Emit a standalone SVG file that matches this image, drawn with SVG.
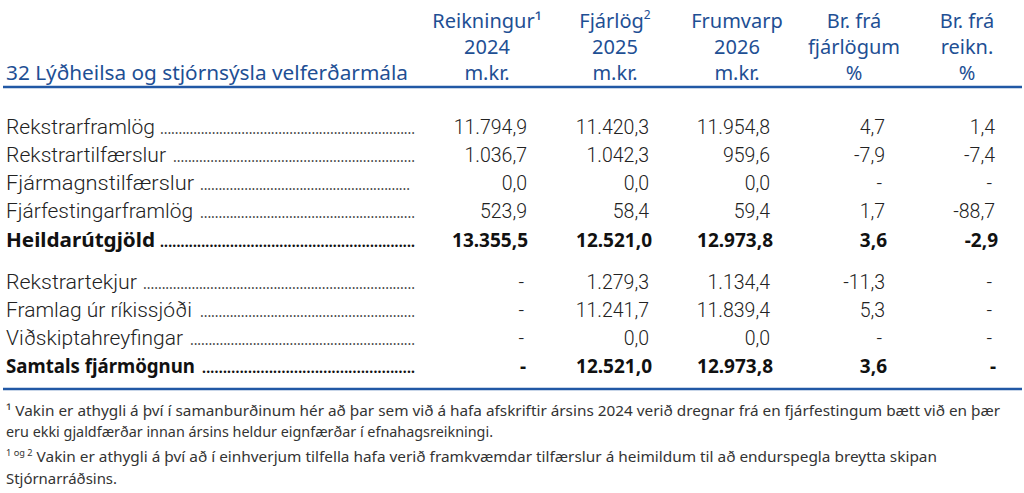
<svg xmlns="http://www.w3.org/2000/svg" width="1024" height="493" viewBox="0 0 1024 493">
<style>
.hd{font-family:"Noto Sans","Liberation Sans",sans-serif;font-size:20px;fill:#1e4f94;text-anchor:middle}
.ti{font-family:"Noto Sans","Liberation Sans",sans-serif;font-size:20px;fill:#1e4f94}
.lb{font-family:Roboto,"Noto Sans","Liberation Sans",sans-serif;font-size:20px;font-weight:300;fill:#222}
.lbb{font-family:"Noto Sans","Liberation Sans",sans-serif;font-size:20px;font-weight:700;fill:#111}
.dt{font-family:"Noto Sans","Liberation Sans",sans-serif;font-size:14px;fill:#444}
.dtb{font-family:"Noto Sans","Liberation Sans",sans-serif;font-size:14px;font-weight:700;fill:#111}
.n{font-family:Roboto,"Noto Sans","Liberation Sans",sans-serif;font-size:19.5px;font-weight:300;fill:#222;text-anchor:end}
.nb{font-family:"Noto Sans","Liberation Sans",sans-serif;font-size:19px;font-weight:700;fill:#111;text-anchor:end}
.fn{font-family:"Noto Sans","Liberation Sans",sans-serif;font-size:15px;fill:#333}
.rule{stroke:#2158a5;stroke-width:2.5;fill:none}
</style>
<rect width="1024" height="493" fill="#fff"/>
<g id="header">
<text class="ti" x="6" y="80" textLength="402" lengthAdjust="spacingAndGlyphs">32 Lýðheilsa og stjórnsýsla velferðarmála</text>
<text class="hd" x="487" y="28">Reikningur¹</text>
<text class="hd" x="487" y="54">2024</text>
<text class="hd" x="487" y="80">m.kr.</text>
<text class="hd" x="615" y="28">Fjárlög<tspan font-size="12" dy="-9">2</tspan></text>
<text class="hd" x="615" y="54">2025</text>
<text class="hd" x="615" y="80">m.kr.</text>
<text class="hd" x="737" y="28">Frumvarp</text>
<text class="hd" x="737" y="54">2026</text>
<text class="hd" x="737" y="80">m.kr.</text>
<text class="hd" x="854" y="28">Br. frá</text>
<text class="hd" x="854" y="54">fjárlögum</text>
<text class="hd" x="854" y="80">%</text>
<text class="hd" x="967" y="28">Br. frá</text>
<text class="hd" x="967" y="54">reikn.</text>
<text class="hd" x="967" y="80">%</text>
</g>
<g id="rules">
<line class="rule" x1="3" y1="87" x2="1022" y2="87"/>
<line class="rule" x1="3" y1="389" x2="1022" y2="389"/>
</g>
<g id="row1">
<text class="lb" x="6" y="134" textLength="149" lengthAdjust="spacingAndGlyphs">Rekstrarframlög</text>
<text class="dt" x="160" y="134" textLength="255" lengthAdjust="spacing">.....................................................................</text>
<text class="n" x="527" y="134">11.794,9</text>
<text class="n" x="649" y="134">11.420,3</text>
<text class="n" x="770" y="134">11.954,8</text>
<text class="n" x="885" y="134">4,7</text>
<text class="n" x="995" y="134">1,4</text>
</g>
<g id="row2">
<text class="lb" x="6" y="162" textLength="160" lengthAdjust="spacingAndGlyphs">Rekstrartilfærslur</text>
<text class="dt" x="173" y="162" textLength="242" lengthAdjust="spacing">.................................................................</text>
<text class="n" x="527" y="162">1.036,7</text>
<text class="n" x="649" y="162">1.042,3</text>
<text class="n" x="770" y="162">959,6</text>
<text class="n" x="885" y="162">-7,9</text>
<text class="n" x="995" y="162">-7,4</text>
</g>
<g id="row3">
<text class="lb" x="6" y="190" textLength="188" lengthAdjust="spacingAndGlyphs">Fjármagnstilfærslur</text>
<text class="dt" x="200" y="190" textLength="210" lengthAdjust="spacing">.........................................................</text>
<text class="n" x="527" y="190">0,0</text>
<text class="n" x="649" y="190">0,0</text>
<text class="n" x="770" y="190">0,0</text>
<text class="n" x="882" y="190">-</text>
<text class="n" x="992" y="190">-</text>
</g>
<g id="row4">
<text class="lb" x="6" y="218" textLength="187" lengthAdjust="spacingAndGlyphs">Fjárfestingarframlög</text>
<text class="dt" x="200" y="218" textLength="215" lengthAdjust="spacing">..........................................................</text>
<text class="n" x="527" y="218">523,9</text>
<text class="n" x="649" y="218">58,4</text>
<text class="n" x="770" y="218">59,4</text>
<text class="n" x="885" y="218">1,7</text>
<text class="n" x="995" y="218">-88,7</text>
</g>
<g id="row5">
<text class="lbb" x="6" y="247" textLength="149" lengthAdjust="spacingAndGlyphs">Heildarútgjöld</text>
<text class="dtb" x="160" y="247" textLength="255" lengthAdjust="spacing">..............................................................</text>
<text class="nb" x="528" y="247">13.355,5</text>
<text class="nb" x="652" y="247">12.521,0</text>
<text class="nb" x="773" y="247">12.973,8</text>
<text class="nb" x="887" y="247">3,6</text>
<text class="nb" x="998" y="247">-2,9</text>
</g>
<g id="row6">
<text class="lb" x="6" y="289" textLength="131" lengthAdjust="spacingAndGlyphs">Rekstrartekjur</text>
<text class="dt" x="143" y="289" textLength="272" lengthAdjust="spacing">.........................................................................</text>
<text class="n" x="524" y="289">-</text>
<text class="n" x="649" y="289">1.279,3</text>
<text class="n" x="770" y="289">1.134,4</text>
<text class="n" x="885" y="289">-11,3</text>
<text class="n" x="992" y="289">-</text>
</g>
<g id="row7">
<text class="lb" x="6" y="317" textLength="186" lengthAdjust="spacingAndGlyphs">Framlag úr ríkissjóði</text>
<text class="dt" x="200" y="317" textLength="215" lengthAdjust="spacing">..........................................................</text>
<text class="n" x="524" y="317">-</text>
<text class="n" x="649" y="317">11.241,7</text>
<text class="n" x="770" y="317">11.839,4</text>
<text class="n" x="885" y="317">5,3</text>
<text class="n" x="992" y="317">-</text>
</g>
<g id="row8">
<text class="lb" x="6" y="345" textLength="177" lengthAdjust="spacingAndGlyphs">Viðskiptahreyfingar</text>
<text class="dt" x="190" y="345" textLength="225" lengthAdjust="spacing">.............................................................</text>
<text class="n" x="524" y="345">-</text>
<text class="n" x="649" y="345">0,0</text>
<text class="n" x="770" y="345">0,0</text>
<text class="n" x="882" y="345">-</text>
<text class="n" x="992" y="345">-</text>
</g>
<g id="row9">
<text class="lbb" x="6" y="373" textLength="189" lengthAdjust="spacingAndGlyphs">Samtals fjármögnun</text>
<text class="dtb" x="202" y="373" textLength="213" lengthAdjust="spacing">...................................................</text>
<text class="nb" x="526" y="373">-</text>
<text class="nb" x="652" y="373">12.521,0</text>
<text class="nb" x="773" y="373">12.973,8</text>
<text class="nb" x="887" y="373">3,6</text>
<text class="nb" x="996" y="373">-</text>
</g>
<g id="footnotes">
<text class="fn" x="6" y="416" textLength="994" lengthAdjust="spacingAndGlyphs">¹ Vakin er athygli á því í samanburðinum hér að þar sem við á hafa afskriftir ársins 2024 verið dregnar frá en fjárfestingum bætt við en þær</text>
<text class="fn" x="6" y="437" textLength="487" lengthAdjust="spacingAndGlyphs">eru ekki gjaldfærðar innan ársins heldur eignfærðar í efnahagsreikningi.</text>
<text class="fn" x="6" y="462" textLength="931" lengthAdjust="spacingAndGlyphs"><tspan font-size="9" dy="-6">1 og 2</tspan><tspan dy="6"> Vakin er athygli á því að í einhverjum tilfella hafa verið framkvæmdar tilfærslur á heimildum til að endurspegla breytta skipan</tspan></text>
<text class="fn" x="6" y="484" textLength="111" lengthAdjust="spacingAndGlyphs">Stjórnarráðsins.</text>
</g>
</svg>
